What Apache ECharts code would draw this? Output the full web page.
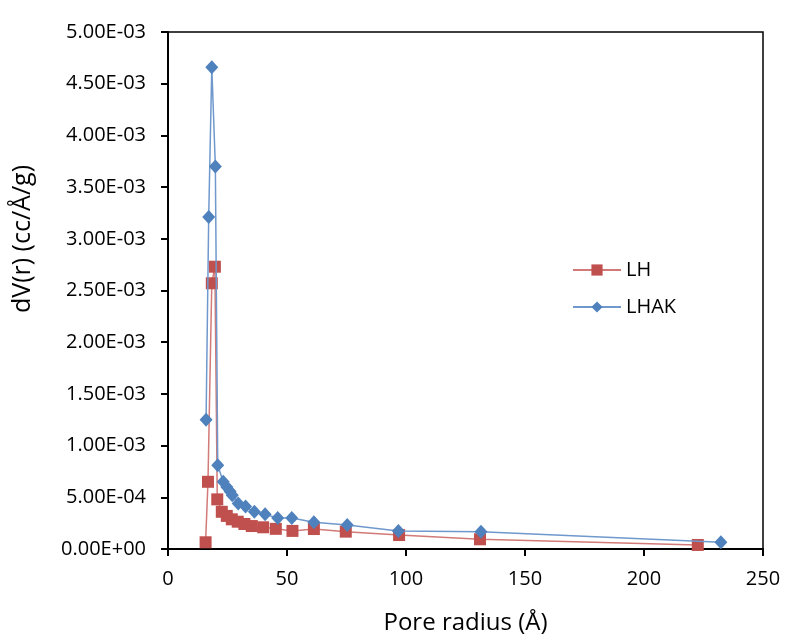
<!DOCTYPE html>
<html>
<head>
<meta charset="utf-8">
<script src="https://cdn.jsdelivr.net/npm/echarts@6/dist/echarts.min.js"></script>
<style>
  html, body { margin: 0; padding: 0; background: #fff; }
  #chart { width: 795px; height: 641px; }
</style>
</head>
<body>
<div id="chart"></div>
<script>
// pore radius (Å) and dV(r) (cc/Å/g)
const lhRadius = [15.8, 16.8, 18.4, 19.7, 20.7, 22.6, 24.7, 26.8, 29.3, 32.1, 35.2, 40.0, 45.3, 52.3, 61.3, 74.7, 97.1, 131.1, 222.6];
const lhValues = [0.065e-3, 0.65e-3, 2.57e-3, 2.73e-3, 0.48e-3, 0.36e-3, 0.32e-3, 0.287e-3, 0.264e-3, 0.242e-3, 0.222e-3, 0.21e-3, 0.195e-3, 0.175e-3, 0.193e-3, 0.168e-3, 0.135e-3, 0.094e-3, 0.039e-3];

const lhakRadius = [16.0, 17.1, 18.4, 19.9, 20.9, 23.2, 24.7, 26.1, 27.0, 29.5, 32.6, 36.3, 40.8, 46.1, 52.0, 61.3, 75.3, 96.8, 131.5, 232.3];
const lhakValues = [1.25e-3, 3.21e-3, 4.66e-3, 3.70e-3, 0.81e-3, 0.65e-3, 0.60e-3, 0.555e-3, 0.52e-3, 0.44e-3, 0.41e-3, 0.36e-3, 0.335e-3, 0.30e-3, 0.30e-3, 0.258e-3, 0.232e-3, 0.174e-3, 0.167e-3, 0.065e-3];

const pair = (xs, ys) => xs.map((x, i) => [x, ys[i]]);

// Excel style: 5.00E-03
const sciLabel = (v) => {
  const [m, e] = v.toExponential(2).split('e');
  const sign = e[0] === '-' ? '-' : '+';
  const digits = e.replace(/[+-]/, '').padStart(2, '0');
  return `${m}E${sign}${digits}`;
};

const font = 'Open Sans';
const chart = echarts.init(document.getElementById('chart'));

chart.setOption({
  animation: false,
  backgroundColor: '#fff',
  textStyle: { fontFamily: font },
  grid: {
    left: 168, right: 32, top: 32, bottom: 92,
    show: true, borderColor: '#000', borderWidth: 1.5,
  },
  legend: {
    orient: 'vertical',
    left: 567, top: 255,
    itemWidth: 48, itemHeight: 14, itemGap: 17,
    textStyle: { fontFamily: font, fontSize: 20, color: '#000' },
    data: ['LH', 'LHAK'],
  },
  // y axis title sits above the axis middle in the original, so it is placed by hand
  graphic: [
    {
      type: 'text',
      x: 23, y: 239,
      rotation: Math.PI / 2,
      style: {
        text: 'dV(r) (cc/Å/g)',
        font: `25px "${font}"`,
        fill: '#000',
        align: 'center',
        verticalAlign: 'middle',
      },
    },
  ],
  xAxis: {
    type: 'value',
    min: 0, max: 250, interval: 50,
    name: 'Pore radius (Å)',
    nameLocation: 'middle',
    nameGap: 62,
    nameTextStyle: { fontFamily: font, fontSize: 24, color: '#000' },
    axisLine: { lineStyle: { color: '#000', width: 2 } },
    axisTick: { length: 7, lineStyle: { color: '#000', width: 2 } },
    axisLabel: { fontFamily: font, fontSize: 20, color: '#000', margin: 20 },
    splitLine: { show: false },
  },
  yAxis: {
    type: 'value',
    min: 0, max: 5e-3, interval: 0.5e-3,
    axisLine: { lineStyle: { color: '#000', width: 2 } },
    axisTick: { length: 7, lineStyle: { color: '#000', width: 2 } },
    axisLabel: { fontFamily: font, fontSize: 20, color: '#000', margin: 22, formatter: sciLabel },
    splitLine: { show: false },
  },
  series: [
    {
      name: 'LH',
      type: 'line',
      data: pair(lhRadius, lhValues),
      symbol: 'rect',
      symbolSize: 12,
      color: '#C0504D',
      lineStyle: { color: '#D27A77', width: 1.5 },
      itemStyle: { color: '#C0504D' },
      z: 2,
    },
    {
      name: 'LHAK',
      type: 'line',
      data: pair(lhakRadius, lhakValues),
      symbol: 'diamond',
      symbolSize: [13, 14],
      color: '#4F81BD',
      lineStyle: { color: '#6F98CC', width: 1.5 },
      itemStyle: { color: '#4F81BD' },
      z: 3,
    },
  ],
});
</script>
</body>
</html>
